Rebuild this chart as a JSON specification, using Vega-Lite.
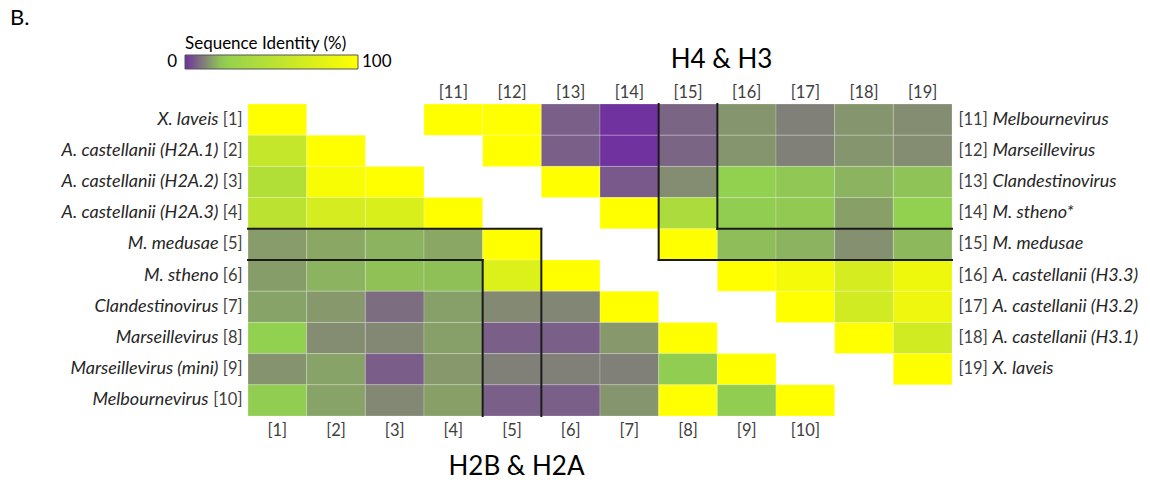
{
  "$schema": "https://vega.github.io/schema/vega-lite/v6.json",
  "width": 704,
  "height": 312,
  "autosize": {"type": "none"},
  "padding": {"left": 248, "top": 104, "right": 198, "bottom": 64},
  "background": "white",
  "config": {
    "font": "Lato",
    "view": {"stroke": null},
    "axis": {"grid": false, "ticks": false, "domain": false, "labelFont": "Lato", "titleFont": "Lato", "labelLimit": 0, "labelAngle": 0}
  },
  "title": {"text": "B.", "anchor": "start", "frame": "group", "fontSize": 22, "fontWeight": "normal", "color": "#000000", "dx": -238, "offset": 6},
  "datasets": {
    "cells": [
      {"set": "H2B & H2A", "r": 0, "c": 0, "v": 100},
      {"set": "H2B & H2A", "r": 1, "c": 0, "v": 58}, {"set": "H2B & H2A", "r": 1, "c": 1, "v": 100},
      {"set": "H2B & H2A", "r": 2, "c": 0, "v": 45}, {"set": "H2B & H2A", "r": 2, "c": 1, "v": 96}, {"set": "H2B & H2A", "r": 2, "c": 2, "v": 100},
      {"set": "H2B & H2A", "r": 3, "c": 0, "v": 52}, {"set": "H2B & H2A", "r": 3, "c": 1, "v": 69}, {"set": "H2B & H2A", "r": 3, "c": 2, "v": 73}, {"set": "H2B & H2A", "r": 3, "c": 3, "v": 100},
      {"set": "H2B & H2A", "r": 4, "c": 0, "v": 14.7}, {"set": "H2B & H2A", "r": 4, "c": 1, "v": 16.5}, {"set": "H2B & H2A", "r": 4, "c": 2, "v": 18}, {"set": "H2B & H2A", "r": 4, "c": 3, "v": 16.5}, {"set": "H2B & H2A", "r": 4, "c": 4, "v": 100},
      {"set": "H2B & H2A", "r": 5, "c": 0, "v": 15}, {"set": "H2B & H2A", "r": 5, "c": 1, "v": 18}, {"set": "H2B & H2A", "r": 5, "c": 2, "v": 20}, {"set": "H2B & H2A", "r": 5, "c": 3, "v": 19.8}, {"set": "H2B & H2A", "r": 5, "c": 4, "v": 75}, {"set": "H2B & H2A", "r": 5, "c": 5, "v": 100},
      {"set": "H2B & H2A", "r": 6, "c": 0, "v": 15.8}, {"set": "H2B & H2A", "r": 6, "c": 1, "v": 14.3}, {"set": "H2B & H2A", "r": 6, "c": 2, "v": 8.4}, {"set": "H2B & H2A", "r": 6, "c": 3, "v": 15.2}, {"set": "H2B & H2A", "r": 6, "c": 4, "v": 12.3}, {"set": "H2B & H2A", "r": 6, "c": 5, "v": 11.9}, {"set": "H2B & H2A", "r": 6, "c": 6, "v": 100},
      {"set": "H2B & H2A", "r": 7, "c": 0, "v": 22}, {"set": "H2B & H2A", "r": 7, "c": 1, "v": 12.8}, {"set": "H2B & H2A", "r": 7, "c": 2, "v": 12.1}, {"set": "H2B & H2A", "r": 7, "c": 3, "v": 15.2}, {"set": "H2B & H2A", "r": 7, "c": 4, "v": 6.6}, {"set": "H2B & H2A", "r": 7, "c": 5, "v": 6.6}, {"set": "H2B & H2A", "r": 7, "c": 6, "v": 14.3}, {"set": "H2B & H2A", "r": 7, "c": 7, "v": 100},
      {"set": "H2B & H2A", "r": 8, "c": 0, "v": 13.6}, {"set": "H2B & H2A", "r": 8, "c": 1, "v": 15.8}, {"set": "H2B & H2A", "r": 8, "c": 2, "v": 6.3}, {"set": "H2B & H2A", "r": 8, "c": 3, "v": 14.3}, {"set": "H2B & H2A", "r": 8, "c": 4, "v": 11}, {"set": "H2B & H2A", "r": 8, "c": 5, "v": 11}, {"set": "H2B & H2A", "r": 8, "c": 6, "v": 11}, {"set": "H2B & H2A", "r": 8, "c": 7, "v": 21.6}, {"set": "H2B & H2A", "r": 8, "c": 8, "v": 100},
      {"set": "H2B & H2A", "r": 9, "c": 0, "v": 21.6}, {"set": "H2B & H2A", "r": 9, "c": 1, "v": 15.8}, {"set": "H2B & H2A", "r": 9, "c": 2, "v": 12.1}, {"set": "H2B & H2A", "r": 9, "c": 3, "v": 15.4}, {"set": "H2B & H2A", "r": 9, "c": 4, "v": 6.6}, {"set": "H2B & H2A", "r": 9, "c": 5, "v": 6.6}, {"set": "H2B & H2A", "r": 9, "c": 6, "v": 13.9}, {"set": "H2B & H2A", "r": 9, "c": 7, "v": 100}, {"set": "H2B & H2A", "r": 9, "c": 8, "v": 21.6}, {"set": "H2B & H2A", "r": 9, "c": 9, "v": 100},
      {"set": "H4 & H3", "r": 0, "c": 3, "v": 100}, {"set": "H4 & H3", "r": 0, "c": 4, "v": 100}, {"set": "H4 & H3", "r": 0, "c": 5, "v": 6.6}, {"set": "H4 & H3", "r": 0, "c": 6, "v": 0.3}, {"set": "H4 & H3", "r": 0, "c": 7, "v": 7.3}, {"set": "H4 & H3", "r": 0, "c": 8, "v": 13.9}, {"set": "H4 & H3", "r": 0, "c": 9, "v": 11}, {"set": "H4 & H3", "r": 0, "c": 10, "v": 13.9}, {"set": "H4 & H3", "r": 0, "c": 11, "v": 12.8},
      {"set": "H4 & H3", "r": 1, "c": 4, "v": 100}, {"set": "H4 & H3", "r": 1, "c": 5, "v": 6.6}, {"set": "H4 & H3", "r": 1, "c": 6, "v": 0.3}, {"set": "H4 & H3", "r": 1, "c": 7, "v": 7.3}, {"set": "H4 & H3", "r": 1, "c": 8, "v": 13.9}, {"set": "H4 & H3", "r": 1, "c": 9, "v": 11}, {"set": "H4 & H3", "r": 1, "c": 10, "v": 13.9}, {"set": "H4 & H3", "r": 1, "c": 11, "v": 12.8},
      {"set": "H4 & H3", "r": 2, "c": 5, "v": 100}, {"set": "H4 & H3", "r": 2, "c": 6, "v": 5.5}, {"set": "H4 & H3", "r": 2, "c": 7, "v": 12.8}, {"set": "H4 & H3", "r": 2, "c": 8, "v": 22}, {"set": "H4 & H3", "r": 2, "c": 9, "v": 20.7}, {"set": "H4 & H3", "r": 2, "c": 10, "v": 18}, {"set": "H4 & H3", "r": 2, "c": 11, "v": 20.2},
      {"set": "H4 & H3", "r": 3, "c": 6, "v": 100}, {"set": "H4 & H3", "r": 3, "c": 7, "v": 40.7}, {"set": "H4 & H3", "r": 3, "c": 8, "v": 21.6}, {"set": "H4 & H3", "r": 3, "c": 9, "v": 21.1}, {"set": "H4 & H3", "r": 3, "c": 10, "v": 15.4}, {"set": "H4 & H3", "r": 3, "c": 11, "v": 22},
      {"set": "H4 & H3", "r": 4, "c": 7, "v": 100}, {"set": "H4 & H3", "r": 4, "c": 8, "v": 19.4}, {"set": "H4 & H3", "r": 4, "c": 9, "v": 18}, {"set": "H4 & H3", "r": 4, "c": 10, "v": 13.2}, {"set": "H4 & H3", "r": 4, "c": 11, "v": 18.7},
      {"set": "H4 & H3", "r": 5, "c": 8, "v": 100}, {"set": "H4 & H3", "r": 5, "c": 9, "v": 92}, {"set": "H4 & H3", "r": 5, "c": 10, "v": 69}, {"set": "H4 & H3", "r": 5, "c": 11, "v": 88},
      {"set": "H4 & H3", "r": 6, "c": 9, "v": 100}, {"set": "H4 & H3", "r": 6, "c": 10, "v": 66.5}, {"set": "H4 & H3", "r": 6, "c": 11, "v": 87.5},
      {"set": "H4 & H3", "r": 7, "c": 10, "v": 100}, {"set": "H4 & H3", "r": 7, "c": 11, "v": 67},
      {"set": "H4 & H3", "r": 8, "c": 11, "v": 100}
    ],
    "bounds": [
      {"x1": 0, "x2": 5, "y1": 4, "y2": 4},
      {"x1": 5, "x2": 5, "y1": 4, "y2": 10},
      {"x1": 0, "x2": 4, "y1": 5, "y2": 5},
      {"x1": 4, "x2": 4, "y1": 5, "y2": 10},
      {"x1": 7, "x2": 7, "y1": 0, "y2": 5},
      {"x1": 7, "x2": 12, "y1": 5, "y2": 5},
      {"x1": 8, "x2": 8, "y1": 0, "y2": 4},
      {"x1": 8, "x2": 12, "y1": 4, "y2": 4}
    ]
  },
  "layer": [
    {
      "data": {"name": "cells"},
      "mark": {"type": "rect", "stroke": "#ffffff", "strokeWidth": 0.6, "strokeOpacity": 0.35},
      "encoding": {
        "x": {"field": "c", "type": "ordinal", "scale": {"domain": [0,1,2,3,4,5,6,7,8,9,10,11], "paddingInner": 0, "paddingOuter": 0},
          "axis": {"orient": "bottom", "labelExpr": "datum.value <= 9 ? '[' + (datum.value + 1) + ']' : ''", "labelPadding": 6, "labelFontSize": 16.5, "labelColor": "#404040",
            "title": "H2B & H2A", "titleFontSize": 26, "titleFontWeight": "normal", "titleColor": "#000000", "titleX": 268, "titleY": 58, "titleAlign": "center", "titleBaseline": "alphabetic"}},
        "y": {"field": "r", "type": "ordinal", "scale": {"domain": [0,1,2,3,4,5,6,7,8,9], "paddingInner": 0, "paddingOuter": 0},
          "axis": {"orient": "left", "labelExpr": "'[' + (datum.value + 1) + ']'", "labelPadding": 6, "labelFontSize": 16.5, "labelColor": "#404040", "title": null}},
        "color": {"field": "v", "type": "quantitative", "title": "Sequence Identity (%)",
          "scale": {"domain": [0, 22, 100], "range": ["#7030A0", "#92D050", "#FFFF00"], "interpolate": "rgb"},
          "legend": {"orient": "none", "legendX": -63, "legendY": -68, "direction": "horizontal", "gradientLength": 173, "gradientThickness": 14, "values": [0, 100],
            "titleFontSize": 17, "titleFontWeight": "normal", "titleColor": "#000000", "titlePadding": 2, "titleAnchor": "start",
            "labelFontSize": 17, "labelColor": "#000000", "labelOffset": -7, "gradientStrokeColor": "#555555", "gradientStrokeWidth": 1, "padding": 0,
            "encode": {"labels": {"update": {"align": {"signal": "datum.value === 0 ? 'right' : 'left'"}, "baseline": {"value": "middle"}, "dx": {"signal": "datum.value === 0 ? -8 : 4"}}}}}}
      }
    },
    {
      "data": {"name": "cells"},
      "mark": {"type": "rect", "opacity": 0},
      "encoding": {
        "x": {"field": "c", "type": "ordinal", "scale": {"domain": [0,1,2,3,4,5,6,7,8,9,10,11], "paddingInner": 0, "paddingOuter": 0},
          "axis": {"orient": "top", "labelExpr": "datum.value >= 3 ? '[' + (datum.value + 8) + ']' : ''", "labelPadding": 4, "labelFontSize": 16.5, "labelColor": "#404040",
            "title": "H4 & H3", "titleFontSize": 26, "titleFontWeight": "normal", "titleColor": "#000000", "titleX": 473, "titleY": -37, "titleAlign": "center", "titleBaseline": "alphabetic"}},
        "y": {"field": "r", "type": "ordinal", "scale": {"domain": [0,1,2,3,4,5,6,7,8,9], "paddingInner": 0, "paddingOuter": 0},
          "axis": {"orient": "right", "labelExpr": "datum.value <= 8 ? '[' + (datum.value + 11) + ']' : ''", "labelPadding": 6, "labelFontSize": 16.5, "labelColor": "#404040", "title": null}}
      }
    },
    {
      "data": {"name": "cells"},
      "mark": {"type": "rect", "opacity": 0},
      "encoding": {
        "y": {"field": "r", "type": "ordinal", "scale": {"domain": [0,1,2,3,4,5,6,7,8,9], "paddingInner": 0, "paddingOuter": 0},
          "axis": {"orient": "left", "labelExpr": "['X. laveis','A. castellanii (H2A.1)','A. castellanii (H2A.2)','A. castellanii (H2A.3)','M. medusae','M. stheno','Clandestinovirus','Marseillevirus','Marseillevirus (mini)','Melbournevirus'][datum.value]",
            "labelPadding": {"condition": {"test": "datum.value === 9", "value": 40}, "value": 30}, "labelFontSize": 18, "labelFontStyle": "italic", "labelColor": "#262626", "title": null}}
      }
    },
    {
      "data": {"name": "cells"},
      "mark": {"type": "rect", "opacity": 0},
      "encoding": {
        "y": {"field": "r", "type": "ordinal", "scale": {"domain": [0,1,2,3,4,5,6,7,8,9], "paddingInner": 0, "paddingOuter": 0},
          "axis": {"orient": "right", "labelExpr": "['Melbournevirus','Marseillevirus','Clandestinovirus','M. stheno*','M. medusae','A. castellanii (H3.3)','A. castellanii (H3.2)','A. castellanii (H3.1)','X. laveis',''][datum.value]",
            "labelPadding": 40, "labelFontSize": 18, "labelFontStyle": "italic", "labelColor": "#262626", "title": null}}
      }
    },
    {
      "data": {"name": "bounds"},
      "mark": {"type": "rule", "color": "#1a1a1a", "strokeWidth": 2, "strokeCap": "square"},
      "encoding": {
        "x": {"field": "x1", "type": "quantitative", "scale": {"domain": [0, 12], "nice": false, "zero": false}, "axis": null},
        "x2": {"field": "x2"},
        "y": {"field": "y1", "type": "quantitative", "scale": {"domain": [0, 10], "nice": false, "zero": false, "reverse": true}, "axis": null},
        "y2": {"field": "y2"}
      }
    }
  ],
  "resolve": {
    "scale": {"x": "independent", "y": "independent"},
    "axis": {"x": "independent", "y": "independent"}
  }
}
